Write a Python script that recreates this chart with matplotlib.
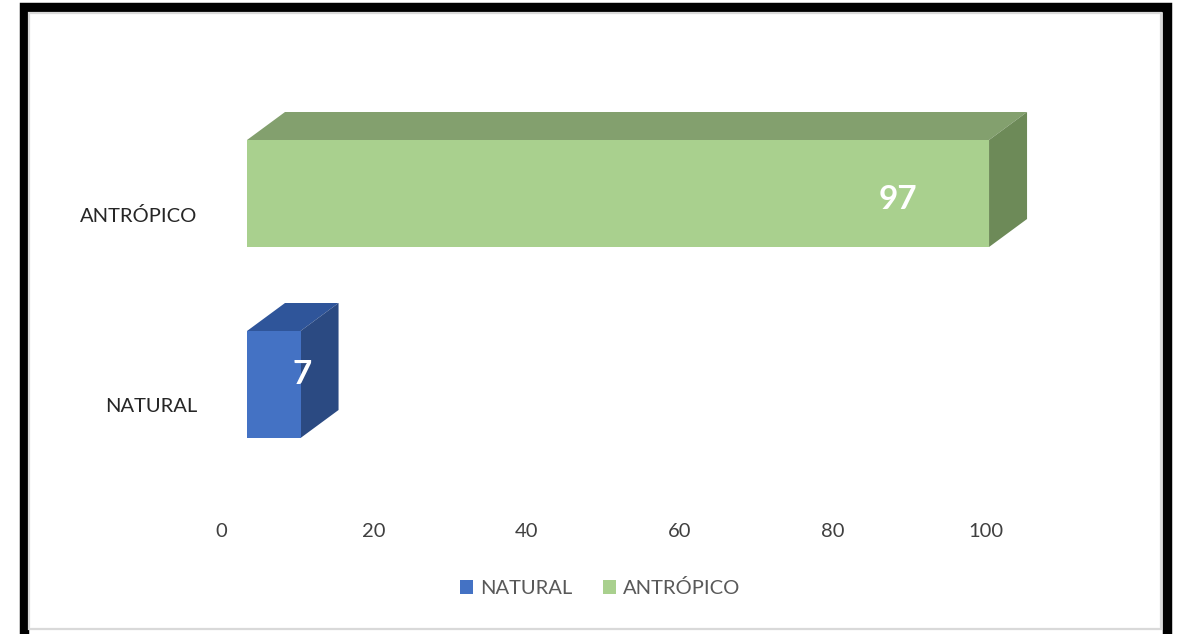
import matplotlib
matplotlib.use('Agg')
import matplotlib.pyplot as plt
from matplotlib.patches import Polygon, Rectangle
from matplotlib.transforms import ScaledTranslation

categories = ["NATURAL", "ANTRÓPICO"]
values = [7, 97]
front_colors = ["#4472C4", "#A9D08E"]
top_colors = ["#2F559A", "#83A06E"]
side_colors = ["#2B4A82", "#6D8A58"]
xticks = [0, 20, 40, 60, 80, 100]

W, H = 1177, 634
fig = plt.figure(figsize=(W / 100, H / 100), dpi=100)
plt.rcParams['font.family'] = ['Lato', 'DejaVu Sans']

# frame with black border and light inner shadow
fig.patches.append(Rectangle((23.5 / W, -10 / H), (1167 - 23.5) / W, (627 + 10) / H,
                             transform=fig.transFigure, fill=False,
                             edgecolor="black", linewidth=6.8, zorder=0))
fig.patches.append(Rectangle((29 / W, 5 / H), (1160.5 - 29) / W, (621 - 5) / H,
                             transform=fig.transFigure, fill=False,
                             edgecolor="#d9d9d9", linewidth=1.6, zorder=0))

# axes: x 0..100 mapped to pixels 247..1012, y -0.5..1.5 to pixels 480..98
ax = fig.add_axes([247 / W, (H - 480) / H, 765 / W, 382 / H])
ax.set_xlim(0, 100)
ax.set_ylim(-0.5, 1.5)

px_x = 765 / 100
px_y = 382 / 2
dx = 38 / px_x
dy = 28 / px_y
bh = 107 / px_y

for i, (v, fc, tc, sc) in enumerate(zip(values, front_colors, top_colors, side_colors)):
    y0, y1 = i - bh / 2, i + bh / 2
    ax.add_patch(Polygon([(0, y1), (v, y1), (v + dx, y1 + dy), (dx, y1 + dy)],
                         closed=True, facecolor=tc, edgecolor="none", clip_on=False))
    ax.add_patch(Polygon([(v, y0), (v + dx, y0 + dy), (v + dx, y1 + dy), (v, y1)],
                         closed=True, facecolor=sc, edgecolor="none", clip_on=False))
    ax.add_patch(Rectangle((0, y0), v, bh, facecolor=fc, edgecolor="none", clip_on=False))

# value labels
ax.text(85.1, 1 - 0.034, "97", color="white", fontsize=24, fontweight="bold",
        ha="center", va="center")
ax.text(7.2, 0 + 0.05, "7", color="white", fontsize=24, fontweight="bold",
        ha="center", va="center")

for s in ax.spines.values():
    s.set_visible(False)
ax.set_xticks(xticks)
ax.set_xticklabels([str(t) for t in xticks], fontsize=14.5, color="#404040")
ax.set_yticks(range(len(categories)))
ax.set_yticklabels(categories, fontsize=14.5, color="#262626")
ax.tick_params(axis="x", length=0, pad=31)
ax.tick_params(axis="y", length=0, pad=36)
for lab in ax.get_xticklabels():
    lab.set_transform(lab.get_transform() + ScaledTranslation(-26 / 100, 0, fig.dpi_scale_trans))
for lab in ax.get_yticklabels():
    lab.set_transform(lab.get_transform() + ScaledTranslation(0, -21 / 100, fig.dpi_scale_trans))

handles = [Rectangle((0, 0), 1, 1, facecolor=c, edgecolor="none") for c in front_colors]
leg = fig.legend(handles, categories, loc="center", bbox_to_anchor=(600 / W, (H - 588) / H),
                 ncol=2, frameon=False, fontsize=14.5, handlelength=0.65, handleheight=0.65,
                 handletextpad=0.35, columnspacing=1.5)
for t in leg.get_texts():
    t.set_color("#595959")

fig.savefig("out.png", dpi=100)
